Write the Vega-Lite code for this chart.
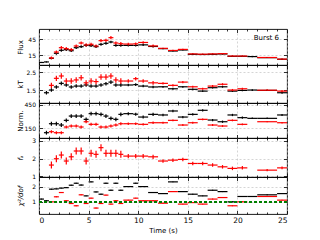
{
  "$schema": "https://vega.github.io/schema/vega-lite/v6.json",
  "padding": {"left": 16, "top": 28, "right": 5, "bottom": 5},
  "spacing": 0,
  "bounds": "flush",
  "config": {
    "view": {"stroke": "black", "strokeWidth": 0.9},
    "font": "DejaVu Sans",
    "axis": {"domain": false, "grid": false, "tickColor": "black", "tickWidth": 0.8, "labelFont": "DejaVu Sans", "titleFont": "DejaVu Sans", "labelFontSize": 6, "titleFontSize": 7, "titleFontWeight": "normal", "labelColor": "black", "titleColor": "black", "gridColor": "#b8b8b8", "gridDash": [2, 2], "gridWidth": 0.6}
  },
  "datasets": {
    "flux": [
      {"s":"b","t":0.25,"dt":0.25,"v":1,"e":1},{"s":"b","t":0.75,"dt":0.25,"v":2,"e":1},{"s":"b","t":1.25,"dt":0.25,"v":8.8,"e":2},{"s":"b","t":1.75,"dt":0.25,"v":18.2,"e":2.5},{"s":"b","t":2.25,"dt":0.25,"v":23.8,"e":2.5},{"s":"b","t":2.75,"dt":0.25,"v":25,"e":2.5},{"s":"b","t":3.25,"dt":0.25,"v":23,"e":2.5},{"s":"b","t":3.75,"dt":0.25,"v":28.7,"e":2.5},{"s":"b","t":4.25,"dt":0.25,"v":30.6,"e":2.5},{"s":"b","t":4.75,"dt":0.25,"v":33.1,"e":2.5},{"s":"b","t":5.25,"dt":0.25,"v":32.5,"e":2.5},{"s":"b","t":5.75,"dt":0.25,"v":30.6,"e":2.5},{"s":"b","t":6.25,"dt":0.25,"v":35,"e":2.5},{"s":"b","t":6.75,"dt":0.25,"v":36.9,"e":2.5},{"s":"b","t":7.25,"dt":0.25,"v":39.4,"e":2.5},{"s":"b","t":7.75,"dt":0.25,"v":33,"e":2.5},{"s":"b","t":8.25,"dt":0.25,"v":33,"e":2.5},{"s":"b","t":9,"dt":0.5,"v":33,"e":2},{"s":"b","t":9.75,"dt":0.25,"v":33,"e":2},{"s":"b","t":10.5,"dt":0.5,"v":34,"e":2},{"s":"b","t":11.5,"dt":0.5,"v":31,"e":2},{"s":"b","t":12.5,"dt":0.5,"v":26.9,"e":1},{"s":"b","t":13.5,"dt":0.5,"v":22.5,"e":1},{"s":"b","t":14.5,"dt":0.5,"v":24.4,"e":1},{"s":"b","t":15.5,"dt":0.5,"v":16.3,"e":1},{"s":"b","t":16.5,"dt":0.5,"v":16,"e":1},{"s":"b","t":17.5,"dt":0.5,"v":16.3,"e":1},{"s":"b","t":18.5,"dt":0.5,"v":16.9,"e":1},{"s":"b","t":19.5,"dt":0.5,"v":12.5,"e":1},{"s":"b","t":20.5,"dt":0.5,"v":12.5,"e":1},{"s":"b","t":21.5,"dt":0.5,"v":12,"e":1},{"s":"b","t":23,"dt":1,"v":10,"e":0.8},{"s":"b","t":24.5,"dt":0.5,"v":7,"e":1},
      {"s":"r","t":1.25,"dt":0.25,"v":9.5,"e":2.5},{"s":"r","t":1.75,"dt":0.25,"v":20.6,"e":3},{"s":"r","t":2.25,"dt":0.25,"v":28.7,"e":3},{"s":"r","t":2.75,"dt":0.25,"v":26.9,"e":3},{"s":"r","t":3.25,"dt":0.25,"v":25,"e":3},{"s":"r","t":3.75,"dt":0.25,"v":31.9,"e":3},{"s":"r","t":4.25,"dt":0.25,"v":37.5,"e":3},{"s":"r","t":4.75,"dt":0.25,"v":33.8,"e":3},{"s":"r","t":5.25,"dt":0.25,"v":35,"e":3},{"s":"r","t":5.75,"dt":0.25,"v":31.9,"e":3},{"s":"r","t":6.25,"dt":0.25,"v":41.9,"e":3},{"s":"r","t":6.75,"dt":0.25,"v":42.5,"e":3},{"s":"r","t":7.25,"dt":0.25,"v":47.5,"e":3},{"s":"r","t":7.75,"dt":0.25,"v":37.5,"e":3},{"s":"r","t":8.25,"dt":0.25,"v":36.2,"e":3},{"s":"r","t":9,"dt":0.5,"v":35.5,"e":2.5},{"s":"r","t":9.75,"dt":0.25,"v":36,"e":2.5},{"s":"r","t":10.5,"dt":0.5,"v":38.5,"e":2.5},{"s":"r","t":11.5,"dt":0.5,"v":32,"e":2.5},{"s":"r","t":12.5,"dt":0.5,"v":27.5,"e":1.2},{"s":"r","t":13.5,"dt":0.5,"v":23.5,"e":1.2},{"s":"r","t":14.5,"dt":0.5,"v":25.5,"e":1.2},{"s":"r","t":15.5,"dt":0.5,"v":17,"e":1.2},{"s":"r","t":16.5,"dt":0.5,"v":16.5,"e":1.2},{"s":"r","t":17.5,"dt":0.5,"v":17,"e":1.2},{"s":"r","t":18.5,"dt":0.5,"v":17.5,"e":1.2},{"s":"r","t":19.5,"dt":0.5,"v":13,"e":1.2},{"s":"r","t":20.5,"dt":0.5,"v":13,"e":1.2},{"s":"r","t":23,"dt":1,"v":10.3,"e":1},{"s":"r","t":24.5,"dt":0.5,"v":7.3,"e":1.2}
    ],
    "kt": [
      {"s":"b","t":0.75,"dt":0.25,"v":1.35,"e":0.1},{"s":"b","t":1.25,"dt":0.25,"v":1.5,"e":0.1},{"s":"b","t":1.75,"dt":0.25,"v":1.67,"e":0.1},{"s":"b","t":2.25,"dt":0.25,"v":1.87,"e":0.1},{"s":"b","t":2.75,"dt":0.25,"v":1.78,"e":0.1},{"s":"b","t":3.25,"dt":0.25,"v":1.67,"e":0.1},{"s":"b","t":3.75,"dt":0.25,"v":1.72,"e":0.1},{"s":"b","t":4.25,"dt":0.25,"v":1.72,"e":0.1},{"s":"b","t":4.75,"dt":0.25,"v":1.78,"e":0.1},{"s":"b","t":5.25,"dt":0.25,"v":1.72,"e":0.1},{"s":"b","t":5.75,"dt":0.25,"v":1.72,"e":0.1},{"s":"b","t":6.25,"dt":0.25,"v":1.78,"e":0.1},{"s":"b","t":6.75,"dt":0.25,"v":1.85,"e":0.1},{"s":"b","t":7.25,"dt":0.25,"v":1.94,"e":0.1},{"s":"b","t":7.75,"dt":0.25,"v":1.78,"e":0.1},{"s":"b","t":8.25,"dt":0.25,"v":1.78,"e":0.1},{"s":"b","t":9,"dt":0.5,"v":1.78,"e":0.07},{"s":"b","t":9.75,"dt":0.25,"v":1.8,"e":0.07},{"s":"b","t":10.5,"dt":0.5,"v":1.72,"e":0.07},{"s":"b","t":11.5,"dt":0.5,"v":1.67,"e":0.07},{"s":"b","t":12.5,"dt":0.5,"v":1.68,"e":0.05},{"s":"b","t":13.5,"dt":0.5,"v":1.57,"e":0.05},{"s":"b","t":14.5,"dt":0.5,"v":1.68,"e":0.05},{"s":"b","t":15.5,"dt":0.5,"v":1.54,"e":0.05},{"s":"b","t":16.5,"dt":0.5,"v":1.44,"e":0.05},{"s":"b","t":17.5,"dt":0.5,"v":1.63,"e":0.05},{"s":"b","t":18.5,"dt":0.5,"v":1.68,"e":0.05},{"s":"b","t":19.5,"dt":0.5,"v":1.44,"e":0.05},{"s":"b","t":20.5,"dt":0.5,"v":1.48,"e":0.05},{"s":"b","t":21.5,"dt":0.5,"v":1.5,"e":0.05},{"s":"b","t":23,"dt":1,"v":1.48,"e":0.04},{"s":"b","t":24.5,"dt":0.5,"v":1.35,"e":0.05},
      {"s":"r","t":1.25,"dt":0.25,"v":1.76,"e":0.15},{"s":"r","t":1.75,"dt":0.25,"v":2.15,"e":0.15},{"s":"r","t":2.25,"dt":0.25,"v":2.28,"e":0.15},{"s":"r","t":2.75,"dt":0.25,"v":2.0,"e":0.15},{"s":"r","t":3.25,"dt":0.25,"v":2.0,"e":0.15},{"s":"r","t":3.75,"dt":0.25,"v":2.06,"e":0.15},{"s":"r","t":4.25,"dt":0.25,"v":2.18,"e":0.15},{"s":"r","t":4.75,"dt":0.25,"v":1.9,"e":0.15},{"s":"r","t":5.25,"dt":0.25,"v":2.0,"e":0.15},{"s":"r","t":5.75,"dt":0.25,"v":1.97,"e":0.15},{"s":"r","t":6.25,"dt":0.25,"v":2.22,"e":0.15},{"s":"r","t":6.75,"dt":0.25,"v":2.22,"e":0.15},{"s":"r","t":7.25,"dt":0.25,"v":2.28,"e":0.15},{"s":"r","t":7.75,"dt":0.25,"v":2.06,"e":0.15},{"s":"r","t":8.25,"dt":0.25,"v":2.0,"e":0.15},{"s":"r","t":9,"dt":0.5,"v":2.0,"e":0.1},{"s":"r","t":9.75,"dt":0.25,"v":2.13,"e":0.1},{"s":"r","t":10.5,"dt":0.5,"v":2.0,"e":0.1},{"s":"r","t":11.5,"dt":0.5,"v":1.9,"e":0.1},{"s":"r","t":12.5,"dt":0.5,"v":1.87,"e":0.06},{"s":"r","t":13.5,"dt":0.5,"v":1.76,"e":0.06},{"s":"r","t":14.5,"dt":0.5,"v":1.94,"e":0.06},{"s":"r","t":15.5,"dt":0.5,"v":1.68,"e":0.06},{"s":"r","t":16.5,"dt":0.5,"v":1.57,"e":0.06},{"s":"r","t":17.5,"dt":0.5,"v":1.72,"e":0.06},{"s":"r","t":18.5,"dt":0.5,"v":1.82,"e":0.06},{"s":"r","t":19.5,"dt":0.5,"v":1.5,"e":0.06},{"s":"r","t":20.5,"dt":0.5,"v":1.57,"e":0.06},{"s":"r","t":23,"dt":1,"v":1.49,"e":0.05},{"s":"r","t":24.5,"dt":0.5,"v":1.44,"e":0.06}
    ],
    "norm": [
      {"s":"b","t":0.75,"dt":0.25,"v":89,"e":25},{"s":"b","t":1.25,"dt":0.25,"v":206,"e":25},{"s":"b","t":1.75,"dt":0.25,"v":206,"e":25},{"s":"b","t":2.25,"dt":0.25,"v":189,"e":25},{"s":"b","t":2.75,"dt":0.25,"v":250,"e":25},{"s":"b","t":3.25,"dt":0.25,"v":306,"e":25},{"s":"b","t":3.75,"dt":0.25,"v":306,"e":25},{"s":"b","t":4.25,"dt":0.25,"v":306,"e":25},{"s":"b","t":4.75,"dt":0.25,"v":263,"e":25},{"s":"b","t":5.25,"dt":0.25,"v":337,"e":25},{"s":"b","t":5.75,"dt":0.25,"v":337,"e":25},{"s":"b","t":6.25,"dt":0.25,"v":328,"e":25},{"s":"b","t":6.75,"dt":0.25,"v":306,"e":25},{"s":"b","t":7.25,"dt":0.25,"v":276,"e":25},{"s":"b","t":7.75,"dt":0.25,"v":263,"e":25},{"s":"b","t":8.25,"dt":0.25,"v":328,"e":25},{"s":"b","t":9,"dt":0.5,"v":337,"e":20},{"s":"b","t":9.75,"dt":0.25,"v":330,"e":20},{"s":"b","t":10.5,"dt":0.5,"v":293,"e":20},{"s":"b","t":11.5,"dt":0.5,"v":328,"e":20},{"s":"b","t":12.5,"dt":0.5,"v":320,"e":15},{"s":"b","t":13.5,"dt":0.5,"v":372,"e":15},{"s":"b","t":14.5,"dt":0.5,"v":293,"e":15},{"s":"b","t":15.5,"dt":0.5,"v":328,"e":15},{"s":"b","t":16.5,"dt":0.5,"v":381,"e":15},{"s":"b","t":17.5,"dt":0.5,"v":254,"e":15},{"s":"b","t":18.5,"dt":0.5,"v":232,"e":15},{"s":"b","t":19.5,"dt":0.5,"v":320,"e":15},{"s":"b","t":20.5,"dt":0.5,"v":285,"e":15},{"s":"b","t":21.5,"dt":0.5,"v":276,"e":10},{"s":"b","t":23,"dt":1,"v":276,"e":10},{"s":"b","t":24.5,"dt":0.5,"v":320,"e":12},
      {"s":"r","t":1.25,"dt":0.25,"v":102,"e":20},{"s":"r","t":1.75,"dt":0.25,"v":89,"e":20},{"s":"r","t":2.25,"dt":0.25,"v":89,"e":20},{"s":"r","t":2.75,"dt":0.25,"v":163,"e":20},{"s":"r","t":3.25,"dt":0.25,"v":176,"e":20},{"s":"r","t":3.75,"dt":0.25,"v":176,"e":20},{"s":"r","t":4.25,"dt":0.25,"v":163,"e":20},{"s":"r","t":4.75,"dt":0.25,"v":232,"e":20},{"s":"r","t":5.25,"dt":0.25,"v":198,"e":20},{"s":"r","t":5.75,"dt":0.25,"v":198,"e":20},{"s":"r","t":6.25,"dt":0.25,"v":163,"e":20},{"s":"r","t":6.75,"dt":0.25,"v":163,"e":20},{"s":"r","t":7.25,"dt":0.25,"v":176,"e":20},{"s":"r","t":7.75,"dt":0.25,"v":189,"e":20},{"s":"r","t":8.25,"dt":0.25,"v":206,"e":20},{"s":"r","t":9,"dt":0.5,"v":206,"e":15},{"s":"r","t":9.75,"dt":0.25,"v":206,"e":15},{"s":"r","t":10.5,"dt":0.5,"v":198,"e":15},{"s":"r","t":11.5,"dt":0.5,"v":219,"e":15},{"s":"r","t":12.5,"dt":0.5,"v":219,"e":12},{"s":"r","t":13.5,"dt":0.5,"v":250,"e":12},{"s":"r","t":14.5,"dt":0.5,"v":189,"e":12},{"s":"r","t":15.5,"dt":0.5,"v":219,"e":12},{"s":"r","t":16.5,"dt":0.5,"v":263,"e":12},{"s":"r","t":17.5,"dt":0.5,"v":189,"e":12},{"s":"r","t":18.5,"dt":0.5,"v":176,"e":12},{"s":"r","t":19.5,"dt":0.5,"v":250,"e":12},{"s":"r","t":20.5,"dt":0.5,"v":198,"e":12},{"s":"r","t":23,"dt":1,"v":232,"e":8},{"s":"r","t":24.5,"dt":0.5,"v":219,"e":10}
    ],
    "fa": [
      {"s":"r","t":1.25,"dt":0.25,"v":1.63,"e":0.2},{"s":"r","t":1.75,"dt":0.25,"v":1.99,"e":0.2},{"s":"r","t":2.25,"dt":0.25,"v":2.2,"e":0.2},{"s":"r","t":2.75,"dt":0.25,"v":1.86,"e":0.2},{"s":"r","t":3.25,"dt":0.25,"v":2.1,"e":0.2},{"s":"r","t":3.75,"dt":0.25,"v":2.43,"e":0.2},{"s":"r","t":4.25,"dt":0.25,"v":2.43,"e":0.2},{"s":"r","t":4.75,"dt":0.25,"v":1.86,"e":0.2},{"s":"r","t":5.25,"dt":0.25,"v":2.3,"e":0.2},{"s":"r","t":5.75,"dt":0.25,"v":2.24,"e":0.2},{"s":"r","t":6.25,"dt":0.25,"v":2.62,"e":0.2},{"s":"r","t":6.75,"dt":0.25,"v":2.3,"e":0.2},{"s":"r","t":7.25,"dt":0.25,"v":2.3,"e":0.2},{"s":"r","t":7.75,"dt":0.25,"v":2.3,"e":0.2},{"s":"r","t":8.25,"dt":0.25,"v":2.24,"e":0.2},{"s":"r","t":9,"dt":0.5,"v":2.14,"e":0.12},{"s":"r","t":9.75,"dt":0.25,"v":2.14,"e":0.12},{"s":"r","t":10.5,"dt":0.5,"v":2.14,"e":0.12},{"s":"r","t":11.5,"dt":0.5,"v":2.1,"e":0.12},{"s":"r","t":12.5,"dt":0.5,"v":1.86,"e":0.1},{"s":"r","t":13.5,"dt":0.5,"v":1.91,"e":0.1},{"s":"r","t":14.5,"dt":0.5,"v":1.95,"e":0.1},{"s":"r","t":15.5,"dt":0.5,"v":1.72,"e":0.1},{"s":"r","t":16.5,"dt":0.5,"v":1.72,"e":0.1},{"s":"r","t":17.5,"dt":0.5,"v":1.63,"e":0.1},{"s":"r","t":18.5,"dt":0.5,"v":1.53,"e":0.1},{"s":"r","t":19.5,"dt":0.5,"v":1.44,"e":0.1},{"s":"r","t":20.5,"dt":0.5,"v":1.47,"e":0.1},{"s":"r","t":23,"dt":1,"v":1.34,"e":0.06},{"s":"r","t":24.5,"dt":0.5,"v":1.47,"e":0.08}
    ],
    "chi": [
      {"s":"b","t":0.25,"dt":0.25,"v":1.18,"e":0.03},{"s":"b","t":0.75,"dt":0.25,"v":1.07,"e":0.03},{"s":"b","t":1.25,"dt":0.25,"v":1.83,"e":0.03},{"s":"b","t":1.75,"dt":0.25,"v":1.85,"e":0.03},{"s":"b","t":2.25,"dt":0.25,"v":1.9,"e":0.03},{"s":"b","t":2.75,"dt":0.25,"v":1.93,"e":0.03},{"s":"b","t":3.25,"dt":0.25,"v":2.09,"e":0.03},{"s":"b","t":3.75,"dt":0.25,"v":2.22,"e":0.03},{"s":"b","t":4.25,"dt":0.25,"v":2.1,"e":0.03},{"s":"b","t":4.75,"dt":0.25,"v":1.39,"e":0.03},{"s":"b","t":5.25,"dt":0.25,"v":2.31,"e":0.03},{"s":"b","t":5.75,"dt":0.25,"v":1.65,"e":0.03},{"s":"b","t":6.25,"dt":0.25,"v":1.5,"e":0.03},{"s":"b","t":6.75,"dt":0.25,"v":2.22,"e":0.03},{"s":"b","t":7.25,"dt":0.25,"v":1.76,"e":0.03},{"s":"b","t":7.75,"dt":0.25,"v":2.22,"e":0.03},{"s":"b","t":8.25,"dt":0.25,"v":1.76,"e":0.03},{"s":"b","t":9,"dt":0.5,"v":2.0,"e":0.03},{"s":"b","t":9.75,"dt":0.25,"v":2.22,"e":0.03},{"s":"b","t":10.5,"dt":0.5,"v":2.0,"e":0.03},{"s":"b","t":11.5,"dt":0.5,"v":1.61,"e":0.03},{"s":"b","t":12.5,"dt":0.5,"v":1.54,"e":0.03},{"s":"b","t":13.5,"dt":0.5,"v":2.31,"e":0.03},{"s":"b","t":14.5,"dt":0.5,"v":1.67,"e":0.03},{"s":"b","t":15.5,"dt":0.5,"v":1.5,"e":0.03},{"s":"b","t":16.5,"dt":0.5,"v":1.39,"e":0.03},{"s":"b","t":17.5,"dt":0.5,"v":1.76,"e":0.03},{"s":"b","t":18.5,"dt":0.5,"v":1.67,"e":0.03},{"s":"b","t":19.5,"dt":0.5,"v":1.0,"e":0.03},{"s":"b","t":20.5,"dt":0.5,"v":1.35,"e":0.03},{"s":"b","t":21.5,"dt":0.5,"v":1.35,"e":0.03},{"s":"b","t":23,"dt":1,"v":1.46,"e":0.03},{"s":"b","t":24.5,"dt":0.5,"v":1.54,"e":0.03},
      {"s":"r","t":1.25,"dt":0.25,"v":1.0,"e":0.03},{"s":"r","t":1.75,"dt":0.25,"v":1.33,"e":0.03},{"s":"r","t":2.25,"dt":0.25,"v":1.61,"e":0.03},{"s":"r","t":2.75,"dt":0.25,"v":1.07,"e":0.03},{"s":"r","t":3.25,"dt":0.25,"v":0.89,"e":0.03},{"s":"r","t":3.75,"dt":0.25,"v":0.74,"e":0.03},{"s":"r","t":4.25,"dt":0.25,"v":1.46,"e":0.03},{"s":"r","t":4.75,"dt":0.25,"v":0.89,"e":0.03},{"s":"r","t":5.25,"dt":0.25,"v":1.24,"e":0.03},{"s":"r","t":5.75,"dt":0.25,"v":0.59,"e":0.03},{"s":"r","t":6.25,"dt":0.25,"v":0.89,"e":0.03},{"s":"r","t":6.75,"dt":0.25,"v":1.44,"e":0.03},{"s":"r","t":7.25,"dt":0.25,"v":0.85,"e":0.03},{"s":"r","t":7.75,"dt":0.25,"v":1.07,"e":0.03},{"s":"r","t":8.25,"dt":0.25,"v":0.89,"e":0.03},{"s":"r","t":9,"dt":0.5,"v":1.11,"e":0.03},{"s":"r","t":9.75,"dt":0.25,"v":1.24,"e":0.03},{"s":"r","t":10.5,"dt":0.5,"v":1.07,"e":0.03},{"s":"r","t":11.5,"dt":0.5,"v":1.07,"e":0.03},{"s":"r","t":12.5,"dt":0.5,"v":0.91,"e":0.03},{"s":"r","t":13.5,"dt":0.5,"v":1.67,"e":0.03},{"s":"r","t":14.5,"dt":0.5,"v":0.85,"e":0.03},{"s":"r","t":15.5,"dt":0.5,"v":0.95,"e":0.03},{"s":"r","t":16.5,"dt":0.5,"v":0.85,"e":0.03},{"s":"r","t":17.5,"dt":0.5,"v":1.18,"e":0.03},{"s":"r","t":18.5,"dt":0.5,"v":1.28,"e":0.03},{"s":"r","t":19.5,"dt":0.5,"v":0.74,"e":0.03},{"s":"r","t":20.5,"dt":0.5,"v":1.0,"e":0.03},{"s":"r","t":23,"dt":1,"v":1.35,"e":0.03},{"s":"r","t":24.5,"dt":0.5,"v":1.11,"e":0.03}
    ]
  },
  "vconcat": [
    {
      "width": 248, "height": 36,
      "data": {"name": "flux"},
      "title": {"text": "Burst 6", "anchor": "end", "frame": "group", "offset": -12, "dx": -8, "fontSize": 7, "fontWeight": "normal", "font": "DejaVu Sans", "color": "black"},
      "layer": [
        {"mark": {"type": "errorbar", "thickness": 1.2},
         "encoding": {
           "x": {"field": "t", "type": "quantitative", "scale": {"domain": [0, 25], "nice": false}, "axis": {"orient": "bottom", "values": [0,1,2,3,4,5,6,7,8,9,10,11,12,13,14,15,16,17,18,19,20,21,22,23,24,25], "labels": false, "title": null, "grid": true, "gridOpacity": {"condition": {"test": "datum.value % 5 === 0", "value": 1}, "value": 0}, "tickSize": {"condition": {"test": "datum.value % 5 === 0", "value": -3.5}, "value": -2}}},
           "xError": {"field": "dt"},
           "y": {"field": "v", "type": "quantitative", "scale": {"domain": [-3.75, 63.75], "nice": false, "zero": false}, "axis": {"orient": "left", "values": [15, 45], "title": "Flux", "grid": true, "tickSize": -3.5, "labelPadding": 7, "minExtent": 12, "maxExtent": 12, "titlePadding": 3.5}},
           "color": {"field": "s", "type": "nominal", "scale": {"domain": ["b", "r"], "range": ["black", "red"]}, "legend": null}
         }},
        {"mark": {"type": "errorbar", "thickness": 1.2},
         "encoding": {
           "x": {"field": "t", "type": "quantitative", "scale": {"domain": [0, 25], "nice": false}, "axis": {"orient": "top", "values": [0,1,2,3,4,5,6,7,8,9,10,11,12,13,14,15,16,17,18,19,20,21,22,23,24,25], "labels": false, "title": null, "tickSize": {"condition": {"test": "datum.value % 5 === 0", "value": -3.5}, "value": -2}}},
           "y": {"field": "v", "type": "quantitative", "scale": {"domain": [-3.75, 63.75], "nice": false, "zero": false}, "axis": {"orient": "right", "values": [15, 45], "labels": false, "title": null, "tickSize": -3.5}},
           "yError": {"field": "e"},
           "color": {"field": "s", "type": "nominal", "scale": {"domain": ["b", "r"], "range": ["black", "red"]}, "legend": null}
         }}
      ],
      "resolve": {"axis": {"x": "independent", "y": "independent"}}
    },
    {
      "width": 248, "height": 38,
      "data": {"name": "kt"},
      "layer": [
        {"mark": {"type": "errorbar", "thickness": 1.2},
         "encoding": {
           "x": {"field": "t", "type": "quantitative", "scale": {"domain": [0, 25], "nice": false}, "axis": {"orient": "bottom", "values": [0,1,2,3,4,5,6,7,8,9,10,11,12,13,14,15,16,17,18,19,20,21,22,23,24,25], "labels": false, "title": null, "grid": true, "gridOpacity": {"condition": {"test": "datum.value % 5 === 0", "value": 1}, "value": 0}, "tickSize": {"condition": {"test": "datum.value % 5 === 0", "value": -3.5}, "value": -2}}},
           "xError": {"field": "dt"},
           "y": {"field": "v", "type": "quantitative", "scale": {"domain": [0.78, 2.89], "nice": false, "zero": false}, "axis": {"orient": "left", "values": [1.5, 2.5], "format": ".1f", "title": "kT", "grid": true, "tickSize": -3.5, "labelPadding": 7, "minExtent": 12, "maxExtent": 12, "titlePadding": 3.5}},
           "color": {"field": "s", "type": "nominal", "scale": {"domain": ["b", "r"], "range": ["black", "red"]}, "legend": null}
         }},
        {"mark": {"type": "errorbar", "thickness": 1.2},
         "encoding": {
           "x": {"field": "t", "type": "quantitative", "scale": {"domain": [0, 25], "nice": false}, "axis": {"orient": "top", "values": [0,1,2,3,4,5,6,7,8,9,10,11,12,13,14,15,16,17,18,19,20,21,22,23,24,25], "labels": false, "title": null, "tickSize": {"condition": {"test": "datum.value % 5 === 0", "value": -3.5}, "value": -2}}},
           "y": {"field": "v", "type": "quantitative", "scale": {"domain": [0.78, 2.89], "nice": false, "zero": false}, "axis": {"orient": "right", "values": [1.5, 2.5], "labels": false, "title": null, "tickSize": -3.5}},
           "yError": {"field": "e"},
           "color": {"field": "s", "type": "nominal", "scale": {"domain": ["b", "r"], "range": ["black", "red"]}, "legend": null}
         }}
      ],
      "resolve": {"axis": {"x": "independent", "y": "independent"}}
    },
    {
      "width": 248, "height": 35,
      "data": {"name": "norm"},
      "layer": [
        {"mark": {"type": "errorbar", "thickness": 1.2},
         "encoding": {
           "x": {"field": "t", "type": "quantitative", "scale": {"domain": [0, 25], "nice": false}, "axis": {"orient": "bottom", "values": [0,1,2,3,4,5,6,7,8,9,10,11,12,13,14,15,16,17,18,19,20,21,22,23,24,25], "labels": false, "title": null, "grid": true, "gridOpacity": {"condition": {"test": "datum.value % 5 === 0", "value": 1}, "value": 0}, "tickSize": {"condition": {"test": "datum.value % 5 === 0", "value": -3.5}, "value": -2}}},
           "xError": {"field": "dt"},
           "y": {"field": "v", "type": "quantitative", "scale": {"domain": [20, 476], "nice": false, "zero": false}, "axis": {"orient": "left", "values": [150, 450], "title": "Norm.", "grid": true, "tickSize": -3.5, "labelPadding": 7, "minExtent": 12, "maxExtent": 12, "titlePadding": 3.5}},
           "color": {"field": "s", "type": "nominal", "scale": {"domain": ["b", "r"], "range": ["black", "red"]}, "legend": null}
         }},
        {"mark": {"type": "errorbar", "thickness": 1.2},
         "encoding": {
           "x": {"field": "t", "type": "quantitative", "scale": {"domain": [0, 25], "nice": false}, "axis": {"orient": "top", "values": [0,1,2,3,4,5,6,7,8,9,10,11,12,13,14,15,16,17,18,19,20,21,22,23,24,25], "labels": false, "title": null, "tickSize": {"condition": {"test": "datum.value % 5 === 0", "value": -3.5}, "value": -2}}},
           "y": {"field": "v", "type": "quantitative", "scale": {"domain": [20, 476], "nice": false, "zero": false}, "axis": {"orient": "right", "values": [150, 450], "labels": false, "title": null, "tickSize": -3.5}},
           "yError": {"field": "e"},
           "color": {"field": "s", "type": "nominal", "scale": {"domain": ["b", "r"], "range": ["black", "red"]}, "legend": null}
         }}
      ],
      "resolve": {"axis": {"x": "independent", "y": "independent"}}
    },
    {
      "width": 248, "height": 39,
      "data": {"name": "fa"},
      "layer": [
        {"mark": {"type": "errorbar", "thickness": 1.2},
         "encoding": {
           "x": {"field": "t", "type": "quantitative", "scale": {"domain": [0, 25], "nice": false}, "axis": {"orient": "bottom", "values": [0,1,2,3,4,5,6,7,8,9,10,11,12,13,14,15,16,17,18,19,20,21,22,23,24,25], "labels": false, "title": null, "grid": true, "gridOpacity": {"condition": {"test": "datum.value % 5 === 0", "value": 1}, "value": 0}, "tickSize": {"condition": {"test": "datum.value % 5 === 0", "value": -3.5}, "value": -2}}},
           "xError": {"field": "dt"},
           "y": {"field": "v", "type": "quantitative", "scale": {"domain": [0.95, 3.17], "nice": false, "zero": false}, "axis": {"orient": "left", "values": [1, 2, 3], "title": "fₐ", "titleFontStyle": "italic", "grid": true, "tickSize": -3.5, "labelPadding": 7, "minExtent": 12, "maxExtent": 12, "titlePadding": 3.5}},
           "color": {"field": "s", "type": "nominal", "scale": {"domain": ["b", "r"], "range": ["black", "red"]}, "legend": null}
         }},
        {"mark": {"type": "errorbar", "thickness": 1.2},
         "encoding": {
           "x": {"field": "t", "type": "quantitative", "scale": {"domain": [0, 25], "nice": false}, "axis": {"orient": "top", "values": [0,1,2,3,4,5,6,7,8,9,10,11,12,13,14,15,16,17,18,19,20,21,22,23,24,25], "labels": false, "title": null, "tickSize": {"condition": {"test": "datum.value % 5 === 0", "value": -3.5}, "value": -2}}},
           "y": {"field": "v", "type": "quantitative", "scale": {"domain": [0.95, 3.17], "nice": false, "zero": false}, "axis": {"orient": "right", "values": [1, 2, 3], "labels": false, "title": null, "tickSize": -3.5}},
           "yError": {"field": "e"},
           "color": {"field": "s", "type": "nominal", "scale": {"domain": ["b", "r"], "range": ["black", "red"]}, "legend": null}
         }}
      ],
      "resolve": {"axis": {"x": "independent", "y": "independent"}}
    },
    {
      "width": 248, "height": 37,
      "data": {"name": "chi"},
      "layer": [
        {"mark": {"type": "errorbar", "thickness": 1.2},
         "encoding": {
           "x": {"field": "t", "type": "quantitative", "scale": {"domain": [0, 25], "nice": false}, "axis": {"orient": "bottom", "values": [0,1,2,3,4,5,6,7,8,9,10,11,12,13,14,15,16,17,18,19,20,21,22,23,24,25], "labelExpr": "datum.value % 5 === 0 ? datum.label : ''", "labelFontSize": 7.5, "labelPadding": 6, "title": "Time (s)", "titleFontSize": 7, "titlePadding": 2, "grid": true, "gridOpacity": {"condition": {"test": "datum.value % 5 === 0", "value": 1}, "value": 0}, "tickSize": {"condition": {"test": "datum.value % 5 === 0", "value": -3.5}, "value": -2}}},
           "xError": {"field": "dt"},
           "y": {"field": "v", "type": "quantitative", "scale": {"domain": [0.2, 2.63], "nice": false, "zero": false}, "axis": {"orient": "left", "values": [1, 2], "title": "χ²/dof", "titleFontStyle": "italic", "grid": true, "tickSize": -3.5, "labelPadding": 7, "minExtent": 12, "maxExtent": 12, "titlePadding": 3.5}},
           "color": {"field": "s", "type": "nominal", "scale": {"domain": ["b", "r"], "range": ["black", "red"]}, "legend": null}
         }},
        {"mark": {"type": "errorbar", "thickness": 1.2},
         "encoding": {
           "x": {"field": "t", "type": "quantitative", "scale": {"domain": [0, 25], "nice": false}, "axis": {"orient": "top", "values": [0,1,2,3,4,5,6,7,8,9,10,11,12,13,14,15,16,17,18,19,20,21,22,23,24,25], "labels": false, "title": null, "tickSize": {"condition": {"test": "datum.value % 5 === 0", "value": -3.5}, "value": -2}}},
           "y": {"field": "v", "type": "quantitative", "scale": {"domain": [0.2, 2.63], "nice": false, "zero": false}, "axis": {"orient": "right", "values": [1, 2], "labels": false, "title": null, "tickSize": -3.5}},
           "yError": {"field": "e"},
           "color": {"field": "s", "type": "nominal", "scale": {"domain": ["b", "r"], "range": ["black", "red"]}, "legend": null}
         }},
        {"mark": {"type": "rule", "color": "#008000", "strokeDash": [3, 2], "strokeWidth": 0.9},
         "encoding": {"y": {"datum": 1, "type": "quantitative", "axis": null}}}
      ],
      "resolve": {"axis": {"x": "independent", "y": "independent"}}
    }
  ]
}
